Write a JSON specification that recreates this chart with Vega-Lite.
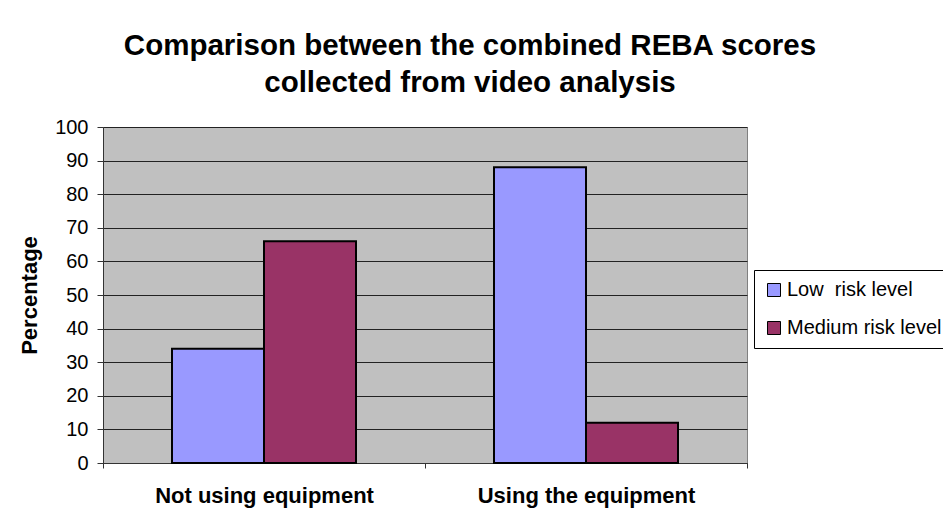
{
  "$schema": "https://vega.github.io/schema/vega-lite/v6.json",
  "autosize": {"type": "none"},
  "width": 644,
  "height": 336,
  "padding": {"left": 103, "top": 127, "right": 196, "bottom": 60},
  "background": "white",
  "title": {
    "text": ["Comparison between the combined REBA scores", "collected from video analysis"],
    "font": "Liberation Sans",
    "fontSize": 29.5,
    "fontWeight": "bold",
    "color": "black",
    "lineHeight": 37,
    "anchor": "middle",
    "dx": 45,
    "offset": 19
  },
  "data": {
    "values": [
      {"group": "Not using equipment", "risk": "Low\u00a0 risk level", "pct": 34},
      {"group": "Not using equipment", "risk": "Medium risk level", "pct": 66},
      {"group": "Using the equipment", "risk": "Low\u00a0 risk level", "pct": 88},
      {"group": "Using the equipment", "risk": "Medium risk level", "pct": 12}
    ]
  },
  "mark": {"type": "bar", "stroke": "black", "strokeWidth": 2},
  "encoding": {
    "x": {
      "field": "group",
      "type": "nominal",
      "sort": null,
      "scale": {"paddingInner": 0, "paddingOuter": 0},
      "axis": {
        "title": null,
        "labelAngle": 0,
        "labelFont": "Liberation Sans",
        "labelFontSize": 22,
        "labelFontWeight": "bold",
        "labelColor": "black",
        "labelPadding": 17,
        "labelLimit": 400,
        "tickBand": "extent",
        "tickSize": 5,
        "tickColor": "#333333",
        "domainColor": "#333333",
        "grid": false
      }
    },
    "xOffset": {
      "field": "risk",
      "type": "nominal",
      "sort": null,
      "scale": {"paddingInner": 0, "paddingOuter": 0.75}
    },
    "y": {
      "field": "pct",
      "type": "quantitative",
      "scale": {"domain": [0, 100]},
      "axis": {
        "title": "Percentage",
        "titleFont": "Liberation Sans",
        "titleFontSize": 22,
        "titleFontWeight": "bold",
        "titleColor": "black",
        "titlePadding": 13,
        "values": [0, 10, 20, 30, 40, 50, 60, 70, 80, 90, 100],
        "labelFont": "Liberation Sans",
        "labelFontSize": 20,
        "labelColor": "black",
        "labelPadding": 9,
        "tickSize": 6,
        "tickColor": "#333333",
        "domainColor": "#333333",
        "grid": true,
        "gridColor": "#222222",
        "gridWidth": 1,
        "gridOpacity": 1
      }
    },
    "color": {
      "field": "risk",
      "type": "nominal",
      "sort": null,
      "scale": {"range": ["#9999FF", "#993366"]},
      "legend": {
        "title": null,
        "orient": "none",
        "legendX": 651,
        "legendY": 143,
        "symbolType": "square",
        "symbolSize": 169,
        "symbolStrokeColor": "black",
        "symbolStrokeWidth": 1,
        "symbolOpacity": 1,
        "labelFont": "Liberation Sans",
        "labelFontSize": 20,
        "labelColor": "black",
        "labelLimit": 400,
        "labelOffset": 3,
        "rowPadding": 18,
        "padding": 10,
        "strokeColor": "black",
        "fillColor": "white"
      }
    }
  },
  "config": {
    "view": {"fill": "#C0C0C0", "stroke": "#808080", "strokeWidth": 1}
  }
}
